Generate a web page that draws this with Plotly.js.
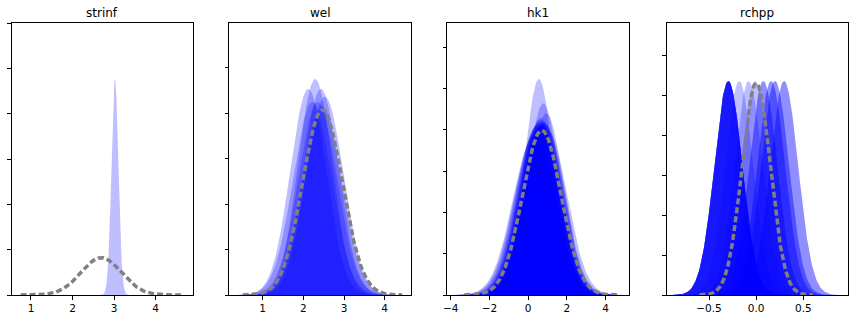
<!DOCTYPE html>
<html>
<head>
<meta charset="utf-8">
<script src="https://cdn.plot.ly/plotly-3.0.1.min.js"></script>
<style>html,body{margin:0;padding:0;background:#fff;}#chart{width:854px;height:319px;}</style>
</head>
<body>
<div id="chart"></div>
<script>
// Panel titles
const titles = ["strinf", "wel", "hk1", "rchpp"];

// Prior distributions (mean, std)
const priorMeans = [2.69, 2.47, 0.7, 0.0];
const priorStds = [0.485, 0.49, 1.0, 0.1505];

// Posterior distributions (mean, std) per panel, read from the blue fills
const strinfPostMeans = [3.02];
const strinfPostStds = [0.0837];

const welPostMeans = [2.29, 2.12, 2.43, 2.53, 2.35, 2.22, 2.45];
const welPostStds = [0.42, 0.44, 0.44, 0.457, 0.47, 0.47, 0.48];

const hk1PostMeans = [0.55, 0.78, 0.93, 0.65, 1.0, 0.25, 0.3, 0.35, 0.4, 0.45, 0.5, 0.55, 0.6, 0.65, 0.7, 0.75, 0.8, 0.85, 0.9, 0.5];
const hk1PostStds = [0.763, 0.86, 0.906, 0.93, 1.0, 1.05, 1.03, 1.0, 0.98, 0.97, 0.96, 0.95, 0.94, 0.96, 0.97, 0.95, 0.95, 0.96, 0.97, 0.99];

const rchppPostMeans = [-0.295, -0.295, -0.295, -0.295, -0.295, -0.295, -0.295, -0.295, -0.18, -0.08, -0.01, 0.076, 0.076, 0.158, 0.158, 0.2, 0.2, 0.296, 0.296];
const rchppPostStds = [0.149, 0.149, 0.149, 0.149, 0.149, 0.149, 0.149, 0.149, 0.149, 0.149, 0.149, 0.149, 0.149, 0.149, 0.149, 0.149, 0.149, 0.149, 0.149];

// Axis tick labels
const xTickVals = [[1, 2, 3, 4], [1, 2, 3, 4], [-4, -2, 0, 2, 4], [-0.5, 0, 0.5]];
const xTickText = [["1", "2", "3", "4"], ["1", "2", "3", "4"], ["\u22124", "\u22122", "0", "2", "4"], ["\u22120.5", "0.0", "0.5"]];

// ---- layout-only settings ----
const xRanges = [[0.536, 4.905], [0.179, 4.654], [-4.175, 5.218], [-0.949, 0.977]];
const yRanges = [[0, 6], [0, 1.195], [0, 0.658], [0, 3.40]];
const yDticks = [1, 0.2, 0.1, 0.5];
const domains = [[0.0137, 0.2263], [0.2685, 0.4816], [0.5238, 0.7369], [0.7807, 0.9933]];

const postMeans = [strinfPostMeans, welPostMeans, hk1PostMeans, rchppPostMeans];
const postStds = [strinfPostStds, welPostStds, hk1PostStds, rchppPostStds];

function normalCurve(mu, sd) {
  const xs = [], ys = [];
  const n = 200;
  for (let i = 0; i <= n; i++) {
    const x = mu - 4 * sd + 8 * sd * i / n;
    xs.push(x);
    ys.push(Math.exp(-0.5 * ((x - mu) / sd) ** 2) / (sd * Math.sqrt(2 * Math.PI)));
  }
  return {xs, ys};
}

const traces = [];
const layout = {
  width: 854, height: 319,
  margin: {l: 0, r: 0, t: 0, b: 0},
  paper_bgcolor: "#fff", plot_bgcolor: "#fff",
  showlegend: false,
  font: {family: "DejaVu Sans", size: 10, color: "#000"},
  annotations: []
};

for (let p = 0; p < 4; p++) {
  const sfx = p === 0 ? "" : String(p + 1);
  const xa = "x" + sfx, ya = "y" + sfx;
  for (let k = 0; k < postMeans[p].length; k++) {
    const c = normalCurve(postMeans[p][k], postStds[p][k]);
    traces.push({
      x: c.xs, y: c.ys, xaxis: xa, yaxis: ya,
      type: "scatter", mode: "lines", fill: "tozeroy",
      fillcolor: "rgba(0,0,255,0.25)", line: {width: 0, color: "rgba(0,0,255,0)"},
      hoverinfo: "skip"
    });
  }
  const pc = normalCurve(priorMeans[p], priorStds[p]);
  traces.push({
    x: pc.xs, y: pc.ys, xaxis: xa, yaxis: ya,
    type: "scatter", mode: "lines",
    line: {color: "grey", width: 3.5, dash: "6px,3px"},
    hoverinfo: "skip"
  });
  layout["xaxis" + sfx] = {
    domain: domains[p], anchor: ya, range: xRanges[p],
    showgrid: false, zeroline: false, showline: true, mirror: true,
    linecolor: "#000", linewidth: 1, ticks: "outside", ticklen: 3.5, tickcolor: "#000",
    tickvals: xTickVals[p], ticktext: xTickText[p],
    tickfont: {family: "DejaVu Sans", size: 10.5, color: "#000"}
  };
  layout["yaxis" + sfx] = {
    domain: [0.0752, 0.927], anchor: xa, range: yRanges[p],
    showgrid: false, zeroline: false, showline: true, mirror: true,
    linecolor: "#000", linewidth: 1, ticks: "outside", ticklen: 3.5, tickcolor: "#000",
    dtick: yDticks[p], tick0: 0, showticklabels: false
  };
  layout.annotations.push({
    text: titles[p], xref: "paper", yref: "paper",
    x: (domains[p][0] + domains[p][1]) / 2, y: 0.960,
    xanchor: "center", yanchor: "middle", showarrow: false,
    font: {family: "DejaVu Sans", size: 12, color: "#000"}
  });
}

Plotly.newPlot("chart", traces, layout, {staticPlot: true, displayModeBar: false});
</script>
</body>
</html>
